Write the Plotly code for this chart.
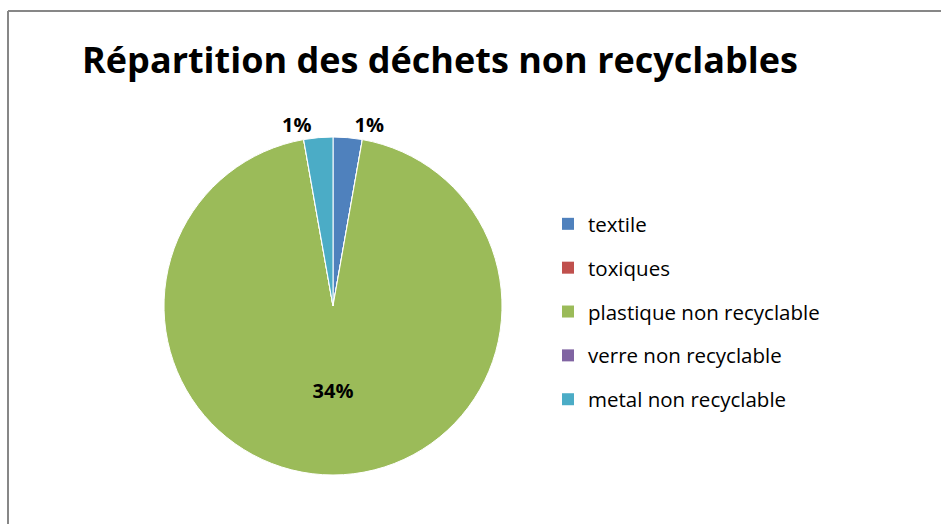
import plotly.graph_objects as go

# Waste categories and their shares
categories = ["textile", "toxiques", "plastique non recyclable",
              "verre non recyclable", "metal non recyclable"]
values = [1, 0, 34, 0, 1]
value_labels = ["1%", "", "34%", "", "1%"]
label_positions = ["outside", "none", "inside", "none", "outside"]
colors = ["#4F81BD", "#C0504D", "#9BBB59", "#8064A2", "#4BACC6"]

W, H = 941, 524

fig = go.Figure()

fig.add_trace(go.Pie(
    labels=categories,
    values=values,
    text=value_labels,
    textinfo="text",
    textposition=label_positions,
    insidetextorientation="horizontal",
    textfont=dict(family="Open Sans", size=20, color="#000000", weight="bold"),
    marker=dict(colors=colors, line=dict(color="#FFFFFF", width=1)),
    sort=False,
    direction="clockwise",
    rotation=0,
    showlegend=False,
    hoverinfo="label+value",
    domain=dict(x=[164 / W, 502 / W], y=[(H - 475) / H, (H - 137) / H]),
))

# Legend entries, one group per category so the rows can be spaced apart
for name, color in zip(categories, colors):
    fig.add_trace(go.Scatter(
        x=[None], y=[None], mode="markers", name=name,
        legendgroup=name,
        marker=dict(symbol="square", size=12, color=color, line=dict(width=0)),
        hoverinfo="skip",
    ))

fig.update_layout(
    width=W, height=H,
    margin=dict(l=0, r=0, t=0, b=0),
    paper_bgcolor="white",
    plot_bgcolor="white",
    title=dict(
        text="<b>Répartition des déchets non recyclables</b>",
        font=dict(family="Open Sans", size=36, color="#000000"),
        x=440 / W, xanchor="center",
        y=1 - 60 / H, yanchor="middle",
    ),
    xaxis=dict(visible=False, domain=[0.98, 1.0]),
    yaxis=dict(visible=False, domain=[0.0, 0.02]),
    legend=dict(
        x=548 / W, xanchor="left",
        y=1 - 204 / H, yanchor="top",
        font=dict(family="Open Sans", size=20.5, color="#000000"),
        tracegroupgap=14.2,
        bgcolor="rgba(0,0,0,0)",
    ),
    shapes=[
        dict(type="line", xref="paper", yref="paper",
             x0=8 / W, x1=1.0, y0=1 - 11 / H, y1=1 - 11 / H,
             line=dict(color="#878787", width=2)),
        dict(type="line", xref="paper", yref="paper",
             x0=8 / W, x1=8 / W, y0=0, y1=1 - 11 / H,
             line=dict(color="#878787", width=2)),
    ],
)

fig.write_html("out.html")
